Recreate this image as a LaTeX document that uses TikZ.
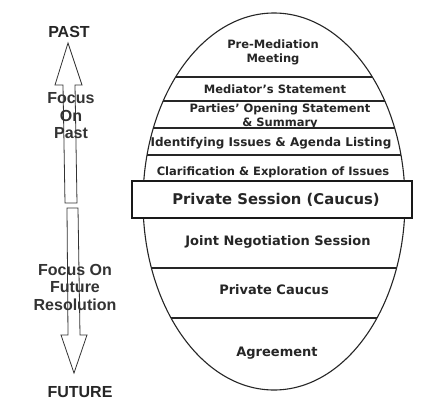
\documentclass[tikz,border=0pt]{standalone}
\usepackage{fontspec}
\setmainfont{DejaVu Sans}
\newfontfamily\arialfont{Liberation Sans}
\begin{document}
\begin{tikzpicture}[x=1pt,y=-1pt,
  outline/.style={draw=black!85, line width=1.1pt},
  sep/.style={draw=black!85, line width=1.2pt},
  stage/.style={font=\bfseries\fontsize{11.5}{14}\selectfont, align=center, inner sep=0pt, text=black!85},
  bigstage/.style={font=\bfseries\fontsize{13}{15}\selectfont, align=center, inner sep=0pt, text=black!85},
  endlabel/.style={font=\arialfont\bfseries\fontsize{16}{18}\selectfont, inner sep=0pt, text=black!85},
  focuslabel/.style={font=\arialfont\bfseries\fontsize{16}{17.5}\selectfont, align=center, inner sep=0pt, text=black!80},
  arrowshape/.style={draw=black!80, line width=0.8pt}]
\useasboundingbox (0,0) rectangle (421,405);
\fill[white] (0,0) rectangle (421,405);

% left double arrow
\draw[arrowshape] (68,43) -- (82,85) -- (75,85) -- (77,203) -- (65,203) -- (63,85) -- (55,85) -- cycle;
\draw[arrowshape] (67,208) -- (78,208) -- (80,335) -- (87,335) -- (74,373) -- (61,335) -- (68,335) -- cycle;

\node[endlabel] (past) at (69,32) {PAST};
\node[endlabel] (future) at (80,392) {FUTURE};
\node[focuslabel] (fpast) at (71,116) {Focus\\On\\Past};
\node[focuslabel] (ffuture) at (75,287) {Focus On\\Future\\Resolution};

% ellipse
\coordinate (c) at (274,201.5);
\begin{scope}
  \clip (c) ellipse [x radius=131, y radius=188.5];
  \fill[white] (c) ellipse [x radius=131, y radius=188.5];
  \foreach \yy in {77,101,128,155,268,318} \draw[sep] (130,\yy) -- (420,\yy);
\end{scope}
\draw[outline] (c) ellipse [x radius=131, y radius=188.5];

% highlighted box
\draw[fill=white, draw=black!90, line width=2.6pt] (132,181) rectangle (412,218);

\node[stage] (pre) at (273,52.5) {Pre-Mediation\\Meeting};
\node[stage] (med) at (275,89) {Mediator's Statement};
\node[stage] (par) at (280,116) {Parties' Opening Statement\\\& Summary};
\node[stage, font=\bfseries\fontsize{12}{14}\selectfont] (ide) at (271,143) {Identifying Issues \& Agenda Listing};
\node[stage] (cla) at (273,172) {Clarification \& Exploration of Issues};
\node[font=\bfseries\fontsize{14.8}{16}\selectfont, inner sep=0pt, text=black!85] (pri) at (276,200) {Private Session (Caucus)};
\node[bigstage] (joi) at (278,242) {Joint Negotiation Session};
\node[bigstage] (cau) at (274,290) {Private Caucus};
\node[bigstage] (agr) at (277,353) {Agreement};
\end{tikzpicture}
\end{document}
